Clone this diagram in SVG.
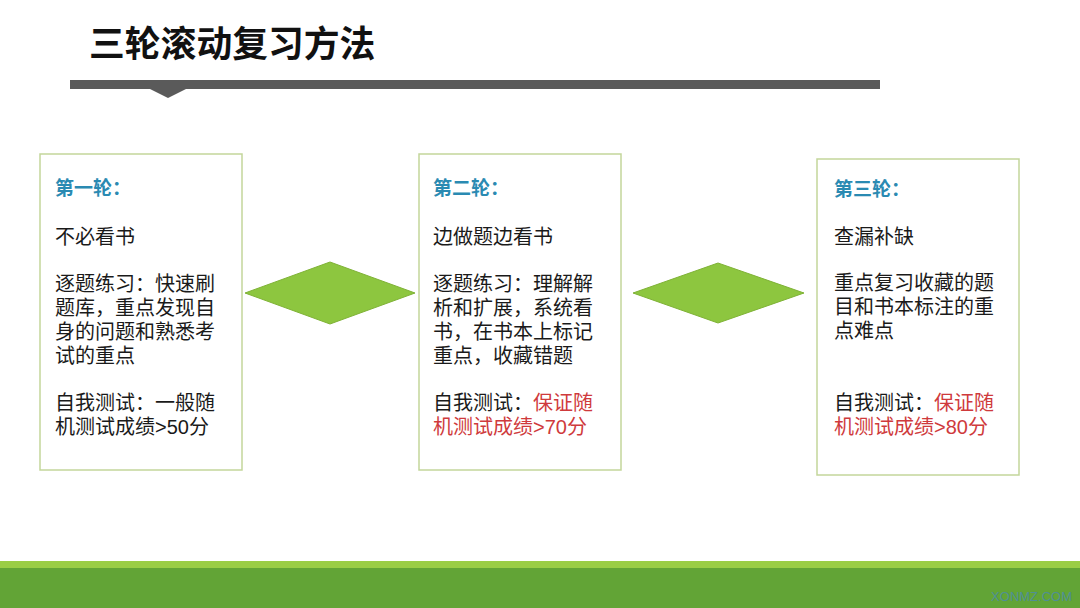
<svg xmlns="http://www.w3.org/2000/svg" width="1080" height="608" viewBox="0 0 1080 608">
<style>
.t{font-family:"Liberation Sans","Noto Sans CJK SC",sans-serif;font-size:20px;fill:#1a1a1a}
.h{font-family:"Liberation Sans","Noto Sans CJK SC",sans-serif;font-size:19px;font-weight:bold;fill:#2a8ab2}
.r{fill:#cf3a3c}
.box{fill:#ffffff;stroke:#c3d69b;stroke-width:1.5}
.dia{fill:#8dc63f;stroke:#7fb236;stroke-width:1}
</style>
<rect width="1080" height="608" fill="#ffffff"/>
<text x="89" y="57" font-family="'Noto Sans CJK SC',sans-serif" font-size="35.8" font-weight="bold" fill="#111">三轮滚动复习方法</text>
<rect x="70" y="80" width="810" height="9" fill="#5a5a5a"/>
<polygon points="150,89 186,89 168,98" fill="#5a5a5a"/>
<g id="connectors">
<polygon class="dia" points="245,293 330,262 415,293 330,324"/>
<polygon class="dia" points="633,293 718,263 804,293 718,323"/>
</g>
<g id="node1">
<rect class="box" x="40" y="154" width="202" height="316"/>
<text class="h" x="55" y="195">第一轮：</text>
<text class="t" x="55" y="244">不必看书</text>
<text class="t" x="55" y="291">逐题练习：快速刷</text>
<text class="t" x="55" y="315">题库，重点发现自</text>
<text class="t" x="55" y="339">身的问题和熟悉考</text>
<text class="t" x="55" y="363">试的重点</text>
<text class="t" x="55" y="410">自我测试：一般随</text>
<text class="t" x="55" y="434">机测试成绩&gt;50分</text>
</g>
<g id="node2">
<rect class="box" x="419" y="154" width="202" height="316"/>
<text class="h" x="433" y="195">第二轮：</text>
<text class="t" x="433" y="244">边做题边看书</text>
<text class="t" x="433" y="291">逐题练习：理解解</text>
<text class="t" x="433" y="315">析和扩展，系统看</text>
<text class="t" x="433" y="339">书，在书本上标记</text>
<text class="t" x="433" y="363">重点，收藏错题</text>
<text class="t" x="433" y="410">自我测试：<tspan class="r">保证随</tspan></text>
<text class="t r" x="433" y="434">机测试成绩&gt;70分</text>
</g>
<g id="node3">
<rect class="box" x="817" y="159" width="202" height="316"/>
<text class="h" x="834" y="196">第三轮：</text>
<text class="t" x="834" y="244">查漏补缺</text>
<text class="t" x="834" y="290">重点复习收藏的题</text>
<text class="t" x="834" y="314">目和书本标注的重</text>
<text class="t" x="834" y="338">点难点</text>
<text class="t" x="834" y="410">自我测试：<tspan class="r">保证随</tspan></text>
<text class="t r" x="834" y="434">机测试成绩&gt;80分</text>
</g>
<rect x="0" y="561" width="1080" height="8" fill="#9acd45"/>
<rect x="0" y="568" width="1080" height="40" fill="#62a436"/>
<text x="1072" y="601" text-anchor="end" font-family="'Liberation Sans Narrow','Liberation Sans',sans-serif" font-size="13" fill="#4f8f94">XONMZ.COM</text>
</svg>
